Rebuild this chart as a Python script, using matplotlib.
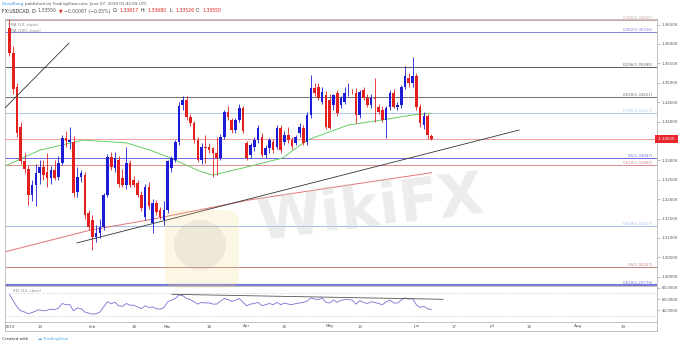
import matplotlib
matplotlib.use("Agg")
import matplotlib.pyplot as plt
import matplotlib.transforms as mtrans
from matplotlib.patches import FancyBboxPatch, Ellipse
from matplotlib.lines import Line2D
import pandas as pd

plt.rcParams['font.family'] = ['DejaVu Sans']

W, H = 680, 345

# ---- daily candles, 2 Jan 2019 .. 7 Jun 2019 (trading days only) ----
opens = [1.3640, 1.3577, 1.3490, 1.3387, 1.3297, 1.3277, 1.3211, 1.3237, 1.3266, 1.3284,
         1.3270, 1.3254, 1.3275, 1.3258, 1.3292, 1.3357, 1.3346, 1.3348, 1.3219, 1.3258,
         1.3262, 1.3164, 1.3146, 1.3103, 1.3112, 1.3129, 1.3211, 1.3309, 1.3279, 1.3301,
         1.3254, 1.3236, 1.3292, 1.3249, 1.3241, 1.3211, 1.3155, 1.3232, 1.3138, 1.3189,
         1.3172, 1.3146, 1.3172, 1.3279, 1.3301, 1.3348, 1.3443, 1.3455, 1.3412, 1.3395,
         1.3352, 1.3301, 1.3335, 1.3335, 1.3331, 1.3318, 1.3305, 1.3361, 1.3425, 1.3404,
         1.3378, 1.3404, 1.3434, 1.3344, 1.3314, 1.3335, 1.3352, 1.3361, 1.3314, 1.3331,
         1.3348, 1.3335, 1.3382, 1.3348, 1.3365, 1.3352, 1.3344, 1.3370, 1.3382, 1.3348,
         1.3417, 1.3486, 1.3490, 1.3451, 1.3468, 1.3455, 1.3443, 1.3473, 1.3443, 1.3451,
         1.3475, 1.3477, 1.3473, 1.3417, 1.3480, 1.3460, 1.3443, 1.3460, 1.3438, 1.3430,
         1.3404, 1.3438, 1.3473, 1.3438, 1.3443, 1.3490, 1.3511, 1.3498, 1.3516, 1.3438,
         1.3391, 1.3413, 1.33617]
highs = [1.3665, 1.3595, 1.3500, 1.3400, 1.3318, 1.3288, 1.3250, 1.3290, 1.3300, 1.3300,
         1.3318, 1.3285, 1.3300, 1.3312, 1.3365, 1.3375, 1.3385, 1.3362, 1.3284, 1.3275,
         1.3270, 1.3172, 1.3160, 1.3133, 1.3150, 1.3215, 1.3315, 1.3322, 1.3322, 1.3310,
         1.3278, 1.3335, 1.3300, 1.3260, 1.3250, 1.3220, 1.3238, 1.3245, 1.3200, 1.3198,
         1.3180, 1.3194, 1.3302, 1.3312, 1.3352, 1.3450, 1.3467, 1.3465, 1.3420, 1.3402,
         1.3360, 1.3345, 1.3365, 1.3345, 1.3335, 1.3361, 1.3368, 1.3430, 1.3440, 1.3410,
         1.3410, 1.3445, 1.3440, 1.3350, 1.3345, 1.3360, 1.3392, 1.3370, 1.3340, 1.3358,
         1.3355, 1.3390, 1.3392, 1.3375, 1.3385, 1.3360, 1.3365, 1.3395, 1.3390, 1.3425,
         1.3520, 1.3500, 1.3500, 1.3490, 1.3478, 1.3470, 1.3470, 1.3480, 1.3465, 1.3490,
         1.3500, 1.3485, 1.3486, 1.3482, 1.3490, 1.3470, 1.3470, 1.3511, 1.3445, 1.3440,
         1.3440, 1.3480, 1.3485, 1.3450, 1.3495, 1.3543, 1.3525, 1.3566, 1.3525, 1.3445,
         1.3425, 1.3420, 1.33680]
lows = [1.3570, 1.3472, 1.3360, 1.3290, 1.3268, 1.3185, 1.3195, 1.3182, 1.3240, 1.3250,
        1.3232, 1.3240, 1.3249, 1.3250, 1.3288, 1.3335, 1.3330, 1.3205, 1.3205, 1.3244,
        1.3150, 1.3120, 1.3069, 1.3090, 1.3100, 1.3120, 1.3205, 1.3275, 1.3270, 1.3232,
        1.3230, 1.3225, 1.3232, 1.3232, 1.3205, 1.3170, 1.3146, 1.3175, 1.3112, 1.3160,
        1.3148, 1.3133, 1.3165, 1.3270, 1.3295, 1.3340, 1.3430, 1.3405, 1.3388, 1.3345,
        1.3295, 1.3290, 1.3292, 1.3320, 1.3256, 1.3262, 1.3300, 1.3355, 1.3405, 1.3370,
        1.3370, 1.3398, 1.3370, 1.3300, 1.3305, 1.3325, 1.3345, 1.3308, 1.3305, 1.3320,
        1.3320, 1.3330, 1.3320, 1.3340, 1.3345, 1.3330, 1.3340, 1.3360, 1.3340, 1.3340,
        1.3410, 1.3465, 1.3455, 1.3445, 1.3380, 1.3380, 1.3430, 1.3415, 1.3435, 1.3445,
        1.3465, 1.3470, 1.3395, 1.3410, 1.3455, 1.3438, 1.3435, 1.3400, 1.3420, 1.3400,
        1.3357, 1.3430, 1.3435, 1.3430, 1.3435, 1.3485, 1.3490, 1.3490, 1.3430, 1.3385,
        1.3380, 1.3355, 1.33526]
closes = [1.3577, 1.3485, 1.3370, 1.3297, 1.3277, 1.3211, 1.3237, 1.3266, 1.3284, 1.3262,
          1.3254, 1.3275, 1.3254, 1.3292, 1.3357, 1.3350, 1.3352, 1.3215, 1.3258, 1.3266,
          1.3159, 1.3129, 1.3103, 1.3112, 1.3129, 1.3211, 1.3309, 1.3284, 1.3305, 1.3240,
          1.3236, 1.3292, 1.3236, 1.3236, 1.3211, 1.3176, 1.3232, 1.3181, 1.3189, 1.3168,
          1.3155, 1.3172, 1.3297, 1.3305, 1.3348, 1.3440, 1.3455, 1.3412, 1.3395, 1.3352,
          1.3301, 1.3335, 1.3331, 1.3327, 1.3318, 1.3305, 1.3361, 1.3425, 1.3412, 1.3378,
          1.3404, 1.3434, 1.3375, 1.3305, 1.3339, 1.3352, 1.3382, 1.3314, 1.3331, 1.3352,
          1.3327, 1.3382, 1.3327, 1.3365, 1.3352, 1.3338, 1.3361, 1.3387, 1.3344, 1.3417,
          1.3486, 1.3473, 1.3460, 1.3477, 1.3387, 1.3382, 1.3468, 1.3421, 1.3460, 1.3473,
          1.3477, 1.3475, 1.3417, 1.3477, 1.3460, 1.3443, 1.3460, 1.3458, 1.3425, 1.3404,
          1.3434, 1.3473, 1.3438, 1.3443, 1.3490, 1.3516, 1.3498, 1.3516, 1.3438, 1.3395,
          1.3413, 1.3365, 1.33550]

# RSI(14) per bar
rsi = [68, 57, 46, 39, 37, 34, 36, 39, 41, 39,
       40, 42, 41, 44, 52, 50, 50, 39, 44, 43,
       37, 35, 33, 34, 37, 46, 55, 52, 54, 48,
       47, 52, 49, 49, 46, 43, 48, 45, 46, 43,
       42, 45, 55, 58, 61, 67, 66, 61, 59, 55,
       51, 54, 53, 53, 51, 51, 56, 61, 59, 56,
       58, 61, 54, 48, 51, 52, 54, 48, 50, 52,
       50, 54, 50, 53, 51, 50, 52, 53, 54, 56,
       62, 60, 59, 62, 54, 53, 58, 54, 58, 59,
       59, 58, 51, 57, 54, 52, 55, 54, 52, 50,
       55, 58, 53, 53, 58, 62, 60, 61, 50, 45,
       47, 43, 41]

# moving averages (bar index, value)
sma50_idx = [-1.2, 8, 19.5, 31, 37, 42, 50.5, 54, 64, 72.5, 79, 90, 99, 107, 112]
sma50_val = [1.3285, 1.3326, 1.3352, 1.3345, 1.3327, 1.3309, 1.3272, 1.3262, 1.3285,
             1.3306, 1.3352, 1.3391, 1.3404, 1.3417, 1.3421]
sma200_idx = [-1.2, 21.4, 37.3, 63.8, 85.1, 112]
sma200_val = [1.3064, 1.3120, 1.3147, 1.3198, 1.3229, 1.3268]

# fibonacci levels
fib_ratio = ['0.786', '0.382', '0.236', '0.618', '0.786', '0.5', '0.618', '0.618', '0.5', '0.618']
fib_price = [1.36605, 1.36316, 1.35395, 1.34621, 1.34227, 1.33047, 1.32880, 1.31317, 1.30247, 1.29779]
fib_color = ['#c9a7a3', '#7f7fe0', '#5c5c5c', '#6e6e6e', '#a9c9ee', '#6b6be2',
             '#dc8c8c', '#a2bde8', '#c47c7c', '#7c7cd8']

# trendlines (bar index, price) and rsi trendline
trend_a_idx = [-1.8, 15.8]
trend_a_val = [1.3429, 1.3602]
trend_b_idx = [17.9, 135.3]
trend_b_val = [1.3087, 1.3378]
rsi_trend_idx = [43.1, 115.1]
rsi_trend_val = [68.3, 59.5]

last_price = 1.33550
date_labels = ['2019', '14', 'Feb', '18', 'Mar', '18', 'Apr', '15', 'May', '13',
               'Jun', '17', 'Jul', '15', 'Aug', '19']
date_ticks = ['2019-01-02', '2019-01-14', '2019-02-01', '2019-02-18', '2019-03-01', '2019-03-18',
              '2019-04-01', '2019-04-15', '2019-05-01', '2019-05-13', '2019-06-03', '2019-06-17',
              '2019-07-01', '2019-07-15', '2019-08-01', '2019-08-19']
price_ticks = [1.300, 1.305, 1.310, 1.315, 1.320, 1.325, 1.330, 1.335,
               1.340, 1.345, 1.350, 1.355, 1.360, 1.365]

days = pd.bdate_range('2019-01-02', '2019-09-30')
day_pos = {d.strftime('%Y-%m-%d'): k for k, d in enumerate(days)}

BLUE = '#1c1cd4'
RED = '#e2201e'
GRID = '#b8b8b8'

fig = plt.figure(figsize=(W / 100, H / 100), dpi=100)
ax = fig.add_axes([5 / W, 1 - 285.5 / H, 652 / W, 266.5 / H])
rax = fig.add_axes([5 / W, 1 - 322 / H, 652 / W, 36.5 / H])

xlo, xhi = -1.19, 171.9
ax.set_xlim(xlo, xhi)
ax.set_ylim(1.297732, 1.366418)
rax.set_xlim(xlo, xhi)
rax.set_ylim(19.3, 83.9)

# fib levels
for r, p, c in zip(fib_ratio, fib_price, fib_color):
    lw = 1.6 if p == fib_price[-1] else 0.7
    ax.axhline(p, color=c, lw=lw, zorder=1)
    ax.text(0.994, p, '%s(%.5f)' % (r, p), color=c, fontsize=2.8, ha='right', va='bottom',
            transform=mtrans.blended_transform_factory(ax.transAxes, ax.transData))

ax.axhline(last_price, color='#f08e8e', lw=0.6, zorder=1)

# moving averages
ax.plot(sma50_idx, sma50_val, color='#66cc66', lw=0.7, zorder=2)
ax.plot(sma200_idx, sma200_val, color='#e07474', lw=0.7, zorder=2)

# candles
idx = list(range(len(closes)))
cols = [BLUE if c >= o else RED for o, c in zip(opens, closes)]
ax.vlines(idx, lows, highs, colors=cols, lw=0.6, zorder=3)
bottoms = [min(o, c) for o, c in zip(opens, closes)]
heights = [max(abs(c - o), 0.00008) for o, c in zip(opens, closes)]
ax.bar(idx, heights, bottom=bottoms, width=0.7, color=cols, lw=0, zorder=4)

# trendlines
ax.plot(trend_a_idx, trend_a_val, color='#333333', lw=0.6, zorder=5)
ax.plot(trend_b_idx, trend_b_val, color='#333333', lw=0.6, zorder=5)

# price axis
ax.yaxis.tick_right()
ax.set_yticks(price_ticks)
ax.set_yticklabels(['' if abs(t - 1.335) < 1e-9 else '%.5f' % t for t in price_ticks])
ax.tick_params(axis='y', length=2, width=0.4, color='#888888', labelsize=2.9,
               labelcolor='#555555', pad=1.5)
ax.set_xticks([])
ax.text(1.0, last_price, ' 1.33550 ', color='white', fontsize=2.9, ha='left', va='center',
        transform=mtrans.blended_transform_factory(ax.transAxes, ax.transData),
        bbox=dict(boxstyle='square,pad=0.5', fc='#e8262b', ec='none'), clip_on=False)

ax.text(0.005, 0.985, 'SMA (50, close)', transform=ax.transAxes, fontsize=2.8, color='#8a8a8a',
        va='top')
ax.text(0.005, 0.962, 'SMA (200, close)', transform=ax.transAxes, fontsize=2.8, color='#8a8a8a',
        va='top')

# rsi panel
rax.axhline(70, color='#aaaaaa', lw=0.5, ls=(0, (1, 2)))
rax.axhline(30, color='#aaaaaa', lw=0.5, ls=(0, (1, 2)))
rax.plot(idx, rsi, color='#7b6fd2', lw=0.6)
rax.plot(rsi_trend_idx, rsi_trend_val, color='#555555', lw=0.6)
rax.text(0.012, 0.86, 'RSI (14, close)', transform=rax.transAxes, fontsize=2.8, color='#8a8a8a',
         va='center')
rax.yaxis.tick_right()
rax.set_yticks([80, 60, 40])
rax.set_yticklabels(['80.0000', '60.0000', '40.0000'])
rax.tick_params(axis='y', length=2, width=0.4, color='#888888', labelsize=2.9,
                labelcolor='#555555', pad=1.5)
rax.set_xticks([day_pos[d] for d in date_ticks])
rax.set_xticklabels(date_labels)
rax.tick_params(axis='x', length=0, labelsize=3, labelcolor='#555555', pad=1.8)

for a in (ax, rax):
    for s in a.spines.values():
        s.set_color(GRID)
        s.set_linewidth(0.6)

# outer frame of the date strip
fig.add_artist(Line2D([5 / W, 657 / W], [1 - 331 / H] * 2, color=GRID, lw=0.6))
fig.add_artist(Line2D([657 / W, 657 / W], [1 - 331 / H, 1 - 322 / H], color=GRID, lw=0.6))
fig.add_artist(Line2D([5 / W, 5 / W], [1 - 331 / H, 1 - 322 / H], color=GRID, lw=0.6))

# header
def text_run(x, y, pieces, size, gap):
    r = fig.canvas.get_renderer()
    for s, c in pieces:
        t = fig.text(x / W, 1 - y / H, s, color=c, fontsize=size, va='center', ha='left')
        x += t.get_window_extent(renderer=r).width + gap

text_run(2, 4.5, [('DavidSong', '#2f8fe8'),
                  ('published on TradingView.com, June 07, 2019 01:42:09 UTC', '#555555')], 3.0, 1.2)
text_run(2, 11, [('FX:USDCAD, D', '#222222'), ('1.33550', '#555555'), ('\u25bc', RED),
                 ('\u22120.00067 (\u22120.05%)', '#555555'),
                 ('O:', '#222222'), ('1.33617', RED), ('H:', '#222222'), ('1.33680', RED),
                 ('L:', '#222222'), ('1.33526', RED), ('C:', '#222222'), ('1.33550', RED)], 3.3, 2.0)
fig.text(2 / W, 1 - 339 / H, 'Created with', fontsize=3, color='#333333', va='center')
fig.text(38 / W, 1 - 339 / H, '\u2601 TradingView', fontsize=3, color='#49a6e8', va='center')

# watermark
logo = FancyBboxPatch((165, H - 288), 74, 78, boxstyle='round,pad=0,rounding_size=12',
                      transform=None, fc='#f4d27a', ec='none', alpha=0.2, zorder=9)
fig.add_artist(logo)
fig.add_artist(Ellipse((200, H - 245), 52, 50, transform=None, fc='#9a9a9a', ec='none',
                       alpha=0.15, zorder=9))
fig.text(370 / W, 1 - 210 / H, 'WikiFX', fontsize=42, fontweight='bold', color='#cccccc',
         alpha=0.36, rotation=7, ha='center', va='center', zorder=10)

fig.savefig('out.png', dpi=100)
